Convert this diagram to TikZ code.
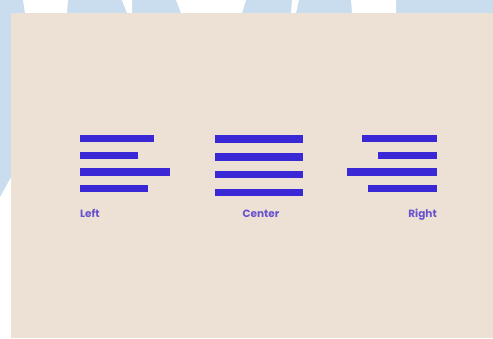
\documentclass[tikz,border=0pt]{standalone}
\usepackage{fontspec}
\setmainfont{Poppins}
\definecolor{bgblue}{RGB}{201,221,238}
\definecolor{beige}{RGB}{237,224,212}
\definecolor{barblue}{RGB}{58,40,214}
\definecolor{lblcol}{RGB}{104,82,206}
\tikzset{
  bar/.style={fill=barblue,draw=none},
  lbl/.style={text=lblcol,font=\fontsize{10.5}{12}\selectfont\bfseries,inner sep=0pt},
  wm/.style={fill=white,draw=none}
}
\begin{document}
\begin{tikzpicture}[x=1pt,y=-1pt]
\useasboundingbox (0,0) rectangle (493,338);
\fill[white] (0,0) rectangle (493,338);
\fill[bgblue] (0,0) -- (493,0) -- (493,13) -- (11,13) -- (11,177) -- (0,197) -- cycle;
% watermark shapes in the top strip
\fill[wm] (23,0) -- (68,0) -- (67,13) -- (25,13) -- cycle;
\fill[wm] (122,0) -- (132,0) -- (132,13) -- (127,13) -- cycle;
\fill[wm] (176,0) -- (246,0) -- (242,13) -- (181,13) -- cycle;
\fill[wm] (292,0) -- (299,0) -- (296,13) -- (291,13) -- cycle;
\fill[wm] (351,0) -- (396,0) -- (396,13) -- (352,13) -- cycle;
% beige panel
\fill[beige] (11,13) rectangle (493,338);
% Left group
\fill[bar] (80,135) rectangle (154,142);
\fill[bar] (80,152) rectangle (138,159);
\fill[bar] (80,168) rectangle (170,175.5);
\fill[bar] (80,184.5) rectangle (148,191.5);
% Center group
\fill[bar] (215,135) rectangle (303,142.5);
\fill[bar] (215,153) rectangle (303,160.5);
\fill[bar] (215,171) rectangle (303,178);
\fill[bar] (215,188.5) rectangle (303,196);
% Right group
\fill[bar] (362,135) rectangle (437,142);
\fill[bar] (378,152) rectangle (437,159);
\fill[bar] (346.5,168) rectangle (437,175.5);
\fill[bar] (368,184.5) rectangle (437,191.5);
% labels
\node[lbl,anchor=base west] (left) at (80,217.5) {Left};
\node[lbl,anchor=base] (center) at (261,217.5) {Center};
\node[lbl,anchor=base east] (right) at (437,217.5) {Right};
\end{tikzpicture}
\end{document}
